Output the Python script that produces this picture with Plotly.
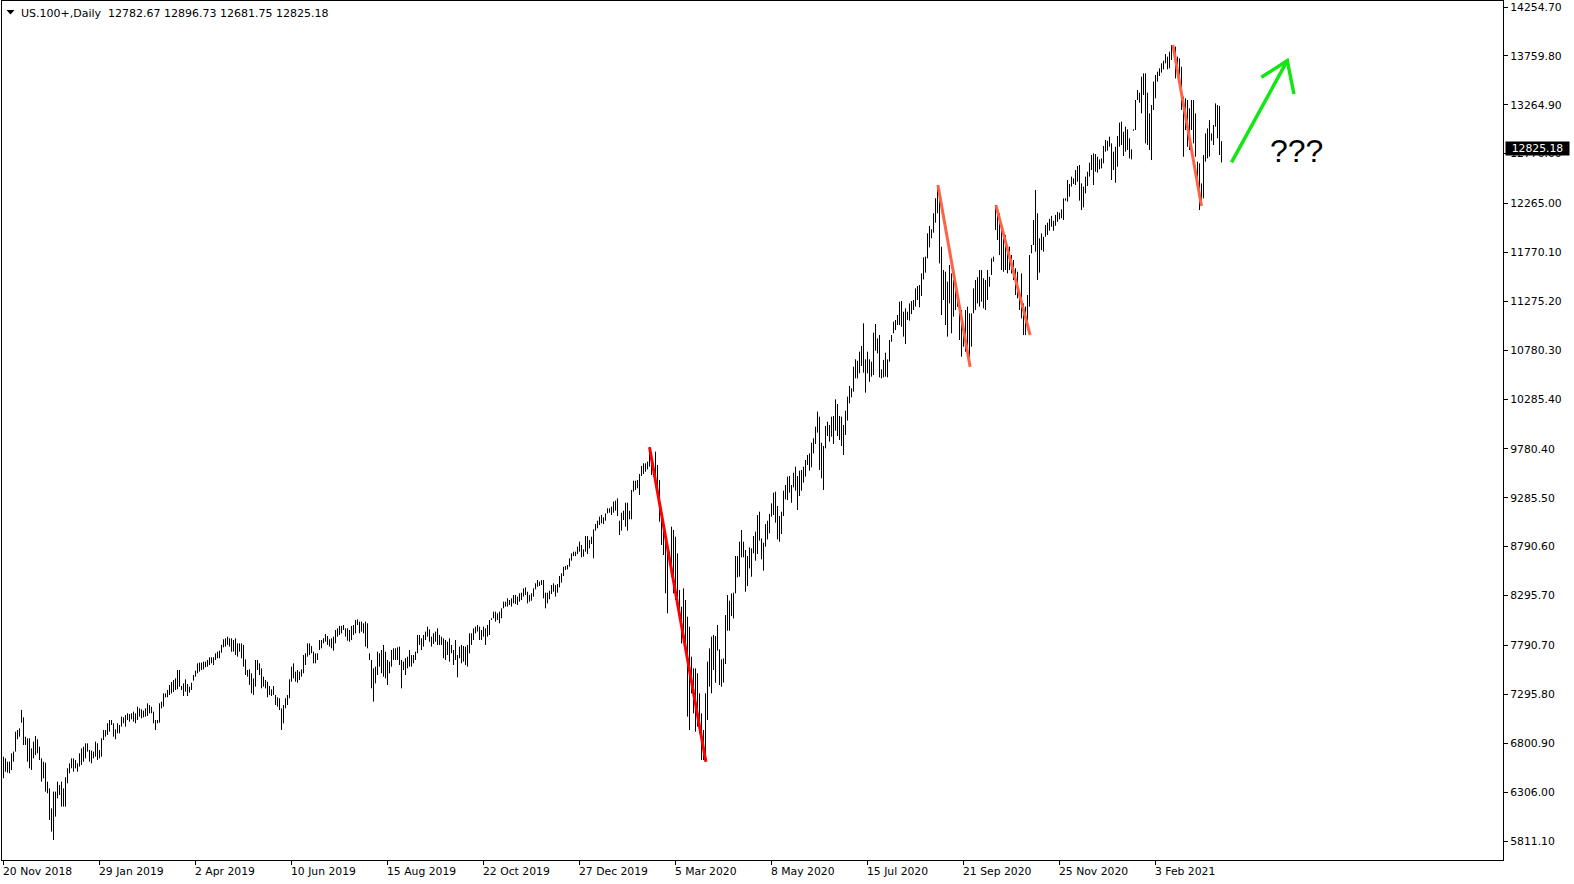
import plotly.graph_objects as go

# ---------------- data ----------------
symbol = "US.100+,Daily"
last_ohlc = [12782.67, 12896.73, 12681.75, 12825.18]

highs = [
    6665, 6648, 6614, 6614, 6699, 6716, 6918, 6935, 6952, 7138,
    7063, 6867, 6851, 6851, 6749, 6817, 6874, 6841, 6766, 6648,
    6614, 6604, 6412, 6344, 6142, 6311, 6311, 6412, 6378, 6412,
    6344, 6456, 6547, 6597, 6648, 6648, 6631, 6597, 6699, 6749,
    6766, 6800, 6800, 6733, 6726, 6716, 6817, 6800, 6733, 6851,
    6935, 6935, 7003, 7036, 7036, 7003, 6942, 7003, 6986, 7070,
    7063, 7087, 7104, 7097, 7104, 7121, 7104, 7171, 7154, 7144,
    7131, 7154, 7205, 7188, 7171, 7121, 7036, 7036, 7205, 7222,
    7306, 7306, 7340, 7390, 7420, 7440,
    7458, 7542, 7542, 7380, 7407, 7448, 7401, 7374, 7414, 7492,
    7536, 7610, 7617, 7617, 7627, 7627, 7644, 7671, 7671, 7671,
    7711, 7728, 7738, 7796, 7853, 7863, 7880, 7863, 7863, 7846,
    7863, 7812, 7812, 7812, 7796, 7650, 7542, 7549, 7509, 7458,
    7644, 7644, 7610, 7559, 7475, 7441, 7424, 7380, 7347, 7380,
    7289, 7266, 7256, 7154, 7188, 7256, 7289, 7448, 7576, 7610,
    7526, 7542, 7526, 7549, 7694, 7711, 7812, 7812, 7785, 7728,
    7711, 7711, 7846, 7846, 7863, 7907, 7887, 7853, 7863, 7880,
    7947, 7964, 7988, 7988, 7998, 7964, 7964, 7947, 7988, 7998,
    8049, 8055, 8032, 8032, 8015, 8032, 8015, 7711, 7644, 7559,
    7576, 7728, 7711, 7745, 7796, 7728, 7644, 7627, 7745, 7762,
    7762, 7772, 7779, 7644, 7627, 7661, 7677, 7745, 7694, 7694,
    7728, 7897, 7897, 7863, 7897, 7931, 7981, 7954, 7880, 7914,
    7931, 7964, 7897, 7880, 7863, 7846, 7829, 7863, 7796, 7745,
    7846, 7694, 7779, 7796, 7785, 7779, 7796, 7914, 7914, 7964,
    7981, 7998, 7981, 7947, 7981, 7964, 7998, 8049, 8066, 8133,
    8133, 8116, 8133, 8167, 8234, 8234, 8268, 8251, 8268, 8302,
    8302, 8285, 8319, 8325, 8369, 8379, 8335, 8302,
    8319, 8369, 8420, 8453, 8437, 8453, 8453, 8325, 8325, 8345,
    8403, 8420, 8403, 8413, 8494, 8521, 8588, 8595, 8605, 8673,
    8723, 8740, 8740, 8791, 8842, 8808, 8764, 8899, 8899, 8858,
    8892, 8966, 9020, 9054, 9095, 9112, 9088, 9128, 9179, 9179,
    9196, 9247, 9257, 9280, 9054, 9135, 9155, 9236, 9236, 9155,
    9365, 9459, 9459, 9466, 9527, 9608, 9635, 9635, 9652, 9797,
    9719, 9635, 9753, 9618, 9466, 9179, 9010, 8858, 8791, 8740,
    8993, 8960, 8892, 8723, 8352, 8183, 8369, 8251, 8082, 7981,
    7677, 7559, 7559, 7509, 7306, 7103, 6935, 7306, 7627, 7761, 7880, 7897,
    7886, 7998, 7751, 7650, 7660, 8099, 8301, 8244, 8318, 8325,
    8696, 8696, 8841, 8960, 8841, 8757, 8696, 8784, 8774, 8899,
    8943, 9111, 9145, 8875, 8831, 9020, 9054, 9122, 9230, 9338,
    9348, 9203, 9101, 9145, 9358, 9415, 9500, 9506, 9415, 9540,
    9601, 9506, 9560, 9567, 9601, 9668, 9719, 9736, 9844, 9888,
    10006, 10158, 10107, 9844, 9810, 10013, 10056, 10023, 10107, 10114,
    10283, 10235, 10114, 10107, 10023, 10168, 10310, 10418, 10394, 10613,
    10688, 10674, 10765, 10823, 11052, 10688, 10765, 10688, 10664, 10958, 11045, 10900, 10934,
    10586, 10681, 10755, 10687, 10883, 10934, 11069, 11086, 11136, 11271,
    11278, 11170, 11204, 11170, 11254, 11278, 11288, 11406, 11430, 11440,
    11558, 11720, 11727, 11963, 12038, 12004, 12166, 12318, 12453, 12385,
    11828, 11592, 11575, 11474, 11643, 11558, 11491, 11389, 11322, 11238,
    11187, 11018, 11187, 11221, 11153, 11153, 11406, 11491, 11518, 11592,
    11592, 11508, 11491, 11592, 11524, 11710, 11727, 12250, 12200, 12166,
    12014, 11997, 11946, 11845, 11828, 11744, 11693, 11609, 11575, 11356,
    11558, 11254, 11221, 11339, 11744, 11845, 12098, 12402, 12166, 11913, 11963, 11929, 12048, 12071,
    12110, 12140, 12090, 12150, 12180,
    12172, 12206, 12317, 12317, 12503, 12463, 12537, 12520, 12604, 12645,
    12655, 12469, 12436, 12537, 12587, 12679, 12756, 12773, 12766, 12739,
    12712, 12722, 12847, 12908, 12901, 12942, 12874, 12790, 12840, 12948,
    13084, 13094, 12992, 13043, 13016, 12925, 12814, 13016, 13313, 13414,
    13387, 13549, 13583, 13583, 13387, 13178, 13262, 13499, 13566, 13600,
    13634, 13684, 13711, 13779, 13752, 13802, 13870, 13870, 13853, 13752,
    13735, 13650, 13347, 13330, 13313, 13229, 13313, 13313, 13178, 12689,
    12672, 12469, 12756, 12975, 13026, 13110, 12975, 13060, 13279, 13262, 13252, 12896.73,
]

lows = [
    6446, 6513, 6503, 6496, 6530, 6614, 6716, 6841, 6867, 7009,
    6783, 6783, 6614, 6547, 6530, 6648, 6682, 6699, 6631, 6412,
    6446, 6311, 6294, 6024, 5906, 5821, 6058, 6243, 6277, 6159,
    6159, 6159, 6395, 6496, 6547, 6513, 6547, 6513, 6564, 6581,
    6614, 6648, 6716, 6614, 6597, 6648, 6665, 6631, 6648, 6665,
    6834, 6867, 6884, 6918, 6986, 6867, 6841, 6901, 6901, 6969,
    7003, 6969, 7036, 7019, 7043, 7019, 7003, 7036, 7070, 7053,
    7063, 7070, 7077, 7104, 7104, 7003, 6935, 7003, 7009, 7154,
    7171, 7266, 7266, 7289, 7306, 7320,
    7340, 7347, 7374, 7340, 7279, 7323, 7279, 7313, 7340, 7434,
    7475, 7509, 7526, 7542, 7549, 7570, 7576, 7593, 7610, 7593,
    7644, 7661, 7661, 7718, 7772, 7779, 7796, 7779, 7728, 7728,
    7694, 7677, 7728, 7661, 7576, 7492, 7475, 7391, 7306, 7289,
    7374, 7542, 7492, 7357, 7374, 7357, 7266, 7289, 7279, 7289,
    7188, 7171, 7137, 6935, 7002, 7154, 7188, 7256, 7424, 7458,
    7424, 7414, 7441, 7475, 7509, 7593, 7677, 7694, 7711, 7610,
    7610, 7644, 7745, 7762, 7812, 7829, 7796, 7779, 7762, 7738,
    7812, 7880, 7897, 7914, 7947, 7880, 7839, 7829, 7846, 7897,
    7914, 7998, 7914, 7931, 7914, 7779, 7762, 7644, 7357, 7222,
    7407, 7492, 7576, 7509, 7475, 7458, 7391, 7509, 7576, 7644,
    7644, 7644, 7593, 7357, 7542, 7492, 7559, 7576, 7576, 7610,
    7644, 7711, 7796, 7745, 7779, 7846, 7880, 7829, 7779, 7806,
    7829, 7796, 7796, 7796, 7661, 7644, 7694, 7627, 7711, 7593,
    7644, 7468, 7661, 7610, 7627, 7593, 7576, 7711, 7796, 7846,
    7914, 7931, 7846, 7846, 7880, 7796, 7880, 7897, 8049, 8066,
    8032, 8049, 8015, 8066, 8167, 8184, 8184, 8201, 8184, 8217,
    8211, 8201, 8234, 8251, 8285, 8302, 8217, 8234,
    8244, 8285, 8359, 8386, 8393, 8403, 8268, 8167, 8217, 8258,
    8312, 8335, 8285, 8325, 8379, 8427, 8494, 8555, 8561, 8588,
    8649, 8696, 8696, 8717, 8740, 8683, 8690, 8740, 8717, 8774,
    8818, 8673, 8953, 8977, 9010, 9027, 9020, 9054, 9128, 9135,
    9112, 9135, 9155, 9101, 8909, 8953, 9061, 8993, 8953, 9068,
    9068, 9348, 9365, 9382, 9314, 9506, 9527, 9550, 9574, 9601,
    9517, 9500, 9500, 9297, 9044, 8808, 8707, 8319, 8116, 8605,
    8487, 8319, 8251, 8285, 8049, 7812, 7913, 7711, 7070, 6935,
    7306, 7103, 6918, 6969, 6901, 6631, 6631, 6614, 7036, 7374, 7306, 7542,
    7414, 7738, 7390, 7373, 7414, 7603, 7940, 7940, 8089, 8065,
    8318, 8480, 8487, 8683, 8683, 8335, 8393, 8571, 8487, 8723,
    8649, 8717, 8852, 8663, 8548, 8791, 8865, 8926, 9095, 9111,
    9034, 8865, 8841, 8919, 9101, 9270, 9263, 9338, 9236, 9392,
    9358, 9162, 9304, 9358, 9439, 9500, 9618, 9560, 9594, 9736,
    9830, 9945, 9567, 9483, 9365, 9787, 9911, 9854, 9905, 9830,
    9965, 9911, 9871, 9810, 9719, 9922, 10067, 10242, 10303, 10360,
    10495, 10495, 10546, 10620, 10553, 10350, 10546, 10461, 10512, 10529, 10775, 10748, 10505,
    10495, 10505, 10512, 10505, 10664, 10866, 10951, 10984, 11035, 11035,
    11018, 10917, 10843, 11086, 11079, 11146, 11187, 11221, 11288, 11214,
    11329, 11497, 11565, 11710, 11821, 11913, 11970, 12071, 12166, 11659,
    11136, 11288, 11035, 10917, 11254, 10951, 11119, 11187, 11221, 10883,
    10714, 10816, 10765, 10782, 10613, 10816, 11153, 11187, 11254, 11221,
    11271, 11204, 11187, 11288, 11423, 11541, 11676, 11997, 11896, 11744,
    11592, 11575, 11592, 11558, 11592, 11558, 11491, 11339, 11305, 11187,
    11102, 10934, 10934, 11069, 11221, 11761, 11845, 11778, 11491, 11565, 11794, 11778, 11929, 11946,
    11990, 12030, 11990, 12040, 12080,
    12105, 12115, 12098, 12294, 12284, 12334, 12436, 12463, 12452, 12486,
    12294, 12199, 12226, 12368, 12442, 12537, 12604, 12452, 12587, 12577,
    12611, 12621, 12672, 12790, 12800, 12840, 12503, 12604, 12476, 12638,
    12840, 12857, 12746, 12790, 12807, 12722, 12712, 13002, 13009, 13313,
    13286, 13178, 13364, 12874, 12857, 12807, 12705, 13212, 13330, 13499,
    13556, 13590, 13624, 13684, 13624, 13634, 13718, 13792, 13532, 13566,
    13566, 13212, 12739, 13009, 12840, 12807, 13009, 12874, 12739, 12436,
    12199, 12267, 12317, 12689, 12722, 12739, 12901, 12857, 13043, 12925, 12756, 12681.75,
]

# date labels and the bar index they sit on
date_labels = ["20 Nov 2018", "29 Jan 2019", "2 Apr 2019", "10 Jun 2019", "15 Aug 2019",
               "22 Oct 2019", "27 Dec 2019", "5 Mar 2020", "8 May 2020", "15 Jul 2020",
               "21 Sep 2020", "25 Nov 2020", "3 Feb 2021"]
date_label_bars = [0, 48, 96, 144, 192, 240, 288, 336, 384, 432, 480, 528, 576]

price_ticks = [14254.70, 13759.80, 13264.90, 12770.00, 12265.00, 11770.10, 11275.20,
               10780.30, 10285.40, 9780.40, 9285.50, 8790.60, 8295.70, 7790.70,
               7295.80, 6800.90, 6306.00, 5811.10]

# hand-drawn trend lines (bar, price) -> (bar, price)
trend_x0 = [323.0, 467.2, 496.2, 584.7]
trend_y0 = [9797, 12453, 12250, 13870]
trend_x1 = [351.2, 483.3, 513.3, 599.0]
trend_y1 = [6614, 10613, 10934, 12240]
trend_colors = ["#FF0000", "#FF6347", "#FF6347", "#FF6347"]

# green arrow (bar, price)
arrow_tail = [614.0, 12682]
arrow_tip = [641.9, 13711]
arrow_wing_left = [628.9, 13543]
arrow_wing_right = [645.2, 13374]
question_text = "???"
question_pos = [646.6, 12799]

# ---------------- figure ----------------
FONT = "DejaVu Sans"
fig = go.Figure()

xs, ys = [], []
for i, (h, l) in enumerate(zip(highs, lows)):
    xs += [i, i, None]
    ys += [l, h, None]
fig.add_trace(go.Scatter(x=xs, y=ys, mode="lines",
                         line=dict(color="black", width=1), hoverinfo="skip"))

for x0, y0, x1, y1, c in zip(trend_x0, trend_y0, trend_x1, trend_y1, trend_colors):
    fig.add_trace(go.Scatter(x=[x0, x1], y=[y0, y1], mode="lines",
                             line=dict(color=c, width=3), hoverinfo="skip"))

green = "#14E614"
fig.add_trace(go.Scatter(
    x=[arrow_tail[0], arrow_tip[0], None, arrow_wing_left[0], arrow_tip[0], arrow_wing_right[0]],
    y=[arrow_tail[1], arrow_tip[1], None, arrow_wing_left[1], arrow_tip[1], arrow_wing_right[1]],
    mode="lines", line=dict(color=green, width=3.5), hoverinfo="skip"))

annotations = []
annotations.append(dict(x=question_pos[0], y=question_pos[1], xref="x", yref="y",
                        text=question_text, showarrow=False,
                        font=dict(family="Liberation Sans", size=32, color="black"),
                        xanchor="center", yanchor="middle"))

for lab, b in zip(date_labels, date_label_bars):
    annotations.append(dict(x=b, y=0, xref="x", yref="paper", text=lab, showarrow=False,
                            xanchor="left", yanchor="top", xshift=-3, yshift=-3,
                            font=dict(family=FONT, size=10.8, color="black")))

header = "%s  %.2f %.2f %.2f %.2f" % (symbol, *last_ohlc)
annotations.append(dict(x=0, y=1, xref="paper", yref="paper", text=header, showarrow=False,
                        xanchor="left", yanchor="top", xshift=17, yshift=-4,
                        font=dict(family=FONT, size=11, color="black")))

annotations.append(dict(x=1, y=last_ohlc[3], xref="paper", yref="y",
                        text="%.2f" % last_ohlc[3], showarrow=False,
                        xanchor="left", yanchor="middle", xshift=2,
                        bgcolor="black", width=61, height=11, borderpad=1, align="center",
                        font=dict(family=FONT, size=10.8, color="white")))

# little triangle marker of the header
W, H = 1574, 884
ML, MR, MT, MB = 2, 71, 1, 24
pw, ph = W - ML - MR, H - MT - MB


def px(xp):
    return (xp - ML) / pw


def py(yp):
    return (H - MB - yp) / ph


shapes = [dict(type="path", xref="paper", yref="paper",
               path="M %f %f L %f %f L %f %f Z" % (px(6.5), py(10), px(14.5), py(10), px(10.5), py(14.5)),
               fillcolor="black", line=dict(width=0))]

units_per_px = (14254.70 - 5811.10) / (841 - 7)
y_lo = 5811.10 - (860 - 841) * units_per_px
y_hi = 14254.70 + (7 - 1) * units_per_px

fig.update_layout(
    width=W, height=H,
    margin=dict(l=ML, r=MR, t=MT, b=MB, pad=0),
    plot_bgcolor="white", paper_bgcolor="white",
    showlegend=False,
    annotations=annotations,
    shapes=shapes,
    xaxis=dict(range=[-0.75, (pw - 1.5) / 2], showgrid=False, zeroline=False,
               showline=True, mirror=True, linecolor="black", linewidth=1,
               ticks="outside", ticklen=4, tickcolor="black", tickwidth=1,
               tickvals=date_label_bars, showticklabels=False, fixedrange=True),
    yaxis=dict(range=[y_lo, y_hi], side="right", showgrid=False, zeroline=False,
               showline=True, mirror=True, linecolor="black", linewidth=1,
               ticks="outside", ticklen=4, tickcolor="black", tickwidth=1,
               tickvals=price_ticks, ticktext=["%.2f" % v for v in price_ticks],
               tickfont=dict(family=FONT, size=10.8, color="black"), fixedrange=True),
)

fig.write_html("out.html", config={"displayModeBar": False},
               post_script="document.body.style.margin='0px';document.body.style.padding='0px';"
                           "document.body.style.overflow='hidden';")
